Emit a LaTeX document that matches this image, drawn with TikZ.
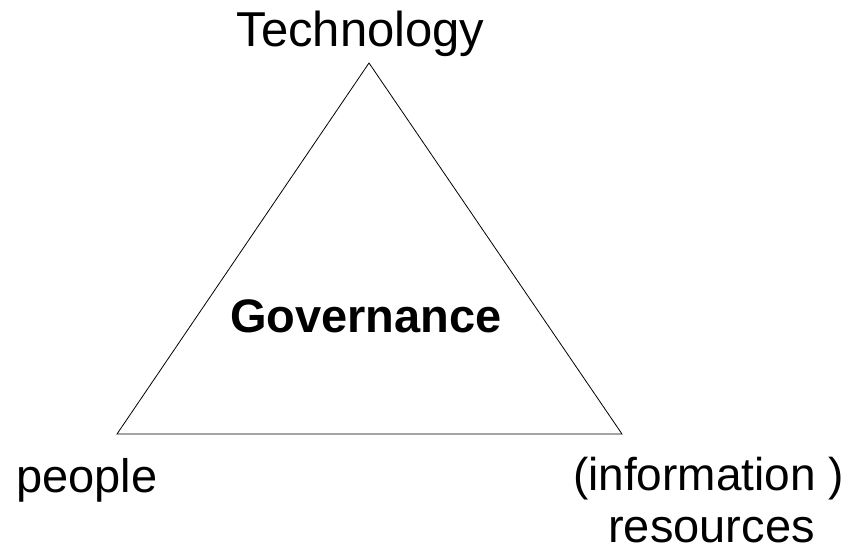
\documentclass[tikz,border=0pt]{standalone}
\usepackage{fontspec}
\setmainfont{Liberation Sans}
\begin{document}
\begin{tikzpicture}[x=1pt,y=1pt,
  lbl/.style={inner sep=0pt,anchor=base,font=\fontsize{47}{53}\selectfont},
  edge/.style={draw=black,line width=0.8pt,line join=miter}]
\useasboundingbox (0,0) rectangle (850,553);
\coordinate (top) at (369,490);
\coordinate (bl) at (117,119);
\coordinate (br) at (622,119);
\draw[edge] (top) -- (bl) -- (br) -- cycle;
\node[lbl,font=\fontsize{49}{53}\selectfont] (tech) at (360.5,506) {Technology};
\node[lbl,font=\fontsize{47}{53}\selectfont\bfseries] (gov) at (366,220) {Governance};
\node[lbl,anchor=base west] (people) at (16,60) {people};
\node[lbl,font=\fontsize{46}{53}\selectfont] (info) at (708.5,62) {(information )};
\node[lbl] (res) at (711.5,10) {resources};
\end{tikzpicture}
\end{document}
